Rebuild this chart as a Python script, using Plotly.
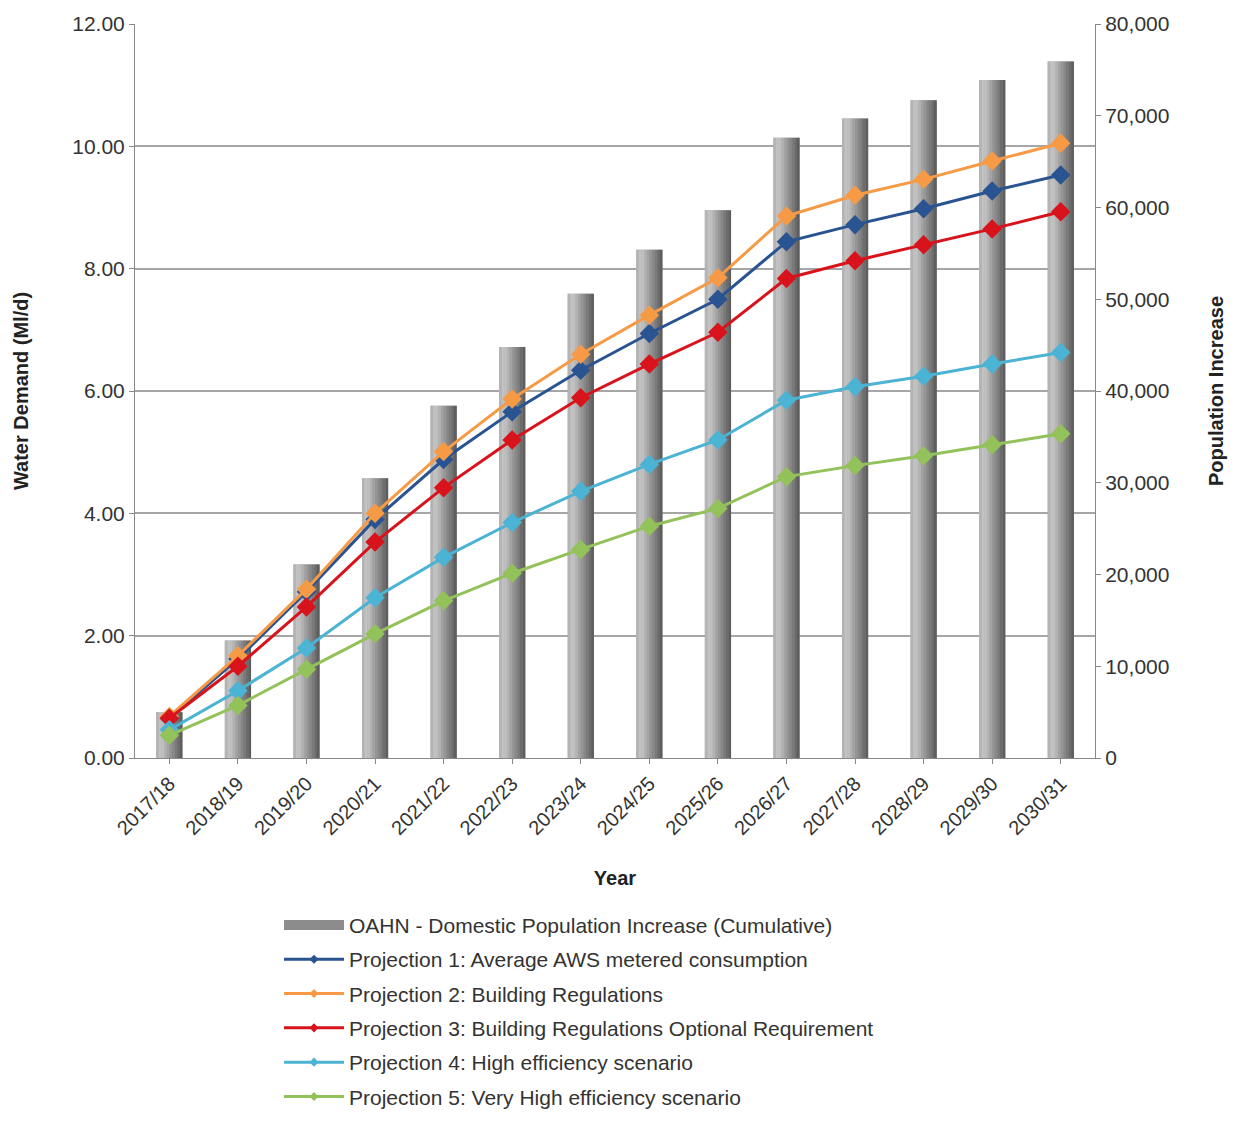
import plotly.graph_objects as go

years = ["2017/18", "2018/19", "2019/20", "2020/21", "2021/22", "2022/23", "2023/24",
         "2024/25", "2025/26", "2026/27", "2027/28", "2028/29", "2029/30", "2030/31"]

population = [5000, 12800, 21100, 30500, 38400, 44800, 50600, 55400, 59700, 67600,
              69700, 71700, 73900, 75900]

proj1 = [0.65, 1.62, 2.72, 3.90, 4.88, 5.66, 6.34, 6.94, 7.50, 8.44, 8.72, 8.98, 9.27, 9.53]
proj2 = [0.68, 1.67, 2.76, 4.00, 5.01, 5.87, 6.60, 7.24, 7.85, 8.86, 9.20, 9.46, 9.76, 10.05]
proj3 = [0.65, 1.50, 2.47, 3.53, 4.42, 5.20, 5.89, 6.44, 6.96, 7.84, 8.13, 8.39, 8.65, 8.93]
proj4 = [0.46, 1.10, 1.80, 2.62, 3.28, 3.85, 4.36, 4.80, 5.20, 5.85, 6.07, 6.24, 6.44, 6.63]
proj5 = [0.37, 0.86, 1.45, 2.03, 2.57, 3.02, 3.41, 3.79, 4.08, 4.60, 4.78, 4.94, 5.12, 5.30]

bar_name = "OAHN - Domestic Population Increase (Cumulative)"
series = [
    ("Projection 1: Average AWS metered consumption", proj1, "#2a5391"),
    ("Projection 2: Building Regulations", proj2, "#f79a46"),
    ("Projection 3: Building Regulations Optional Requirement", proj3, "#d8131b"),
    ("Projection 4: High efficiency scenario", proj4, "#4bb3d3"),
    ("Projection 5: Very High efficiency scenario", proj5, "#93c15a"),
]

FONT = "Liberation Sans, Arial, sans-serif"
fig = go.Figure()

# bars (gradient simulated by overlaid strips)
bar_w = 0.38
fig.add_trace(go.Bar(
    x=years, y=population, name=bar_name, showlegend=False,
    marker=dict(color="#a8a8a8", line=dict(width=0)), width=bar_w, yaxis="y",
    hoverinfo="skip"))
strip_colors = ["#b4b4b4", "#c2c2c2", "#bfbfbf", "#b2b2b2", "#a3a3a3", "#959595",
                "#888888", "#7a7a7a", "#6c6c6c", "#5e5e5e"]
n = len(strip_colors)
sw = bar_w / n
for i, c in enumerate(strip_colors):
    fig.add_trace(go.Bar(
        x=years, y=population, showlegend=False, width=sw * 1.08,
        offset=-bar_w / 2 + i * sw, marker=dict(color=c, line=dict(width=0)),
        yaxis="y", hoverinfo="skip"))

for name, vals, col in series:
    fig.add_trace(go.Scatter(
        x=years, y=vals, name=name, mode="lines+markers", yaxis="y2",
        showlegend=False,
        line=dict(color=col, width=3),
        marker=dict(symbol="diamond", size=15, color=col)))

# legend entries (no data drawn)
fig.add_trace(go.Scatter(x=[None], y=[None], name=bar_name, mode="lines", yaxis="y2",
                         legendgroup="g0", line=dict(color="#8c8c8c", width=13)))
for k, (name, vals, col) in enumerate(series):
    fig.add_trace(go.Scatter(
        x=[None], y=[None], name=name, mode="lines+markers", yaxis="y2",
        legendgroup=f"g{k+1}",
        line=dict(color=col, width=3),
        marker=dict(symbol="diamond", size=7, color=col)))

fig.update_layout(
    width=1243, height=1133,
    margin=dict(l=135, r=148, t=20, b=375),
    paper_bgcolor="white", plot_bgcolor="white",
    barmode="overlay",
    font=dict(family=FONT, size=20, color="#333333"),
    showlegend=True,
    legend=dict(x=0.15, xanchor="left", y=-0.2, yanchor="top",
                font=dict(size=21, color="#333333"), tracegroupgap=4,
                itemwidth=60, bgcolor="rgba(0,0,0,0)"),
    xaxis=dict(
        type="category", range=[-0.5, 13.5], tickangle=-45, showline=True,
        linecolor="#888888", linewidth=1,
        ticks="outside", ticklen=5, tickcolor="#888888", showgrid=False,
        tickfont=dict(size=20, color="#333333"),
        title=dict(text="<b>Year</b>", font=dict(size=20, color="#222222"), standoff=32),
    ),
    yaxis=dict(
        side="right", range=[0, 80000], dtick=10000, tickformat=",",
        showgrid=False, showline=True, linecolor="#888888", linewidth=1,
        ticks="outside", ticklen=5, tickcolor="#888888",
        tickfont=dict(size=21, color="#333333"),
        title=dict(text="<b>Population Increase</b>", font=dict(size=20, color="#222222"),
                   standoff=40),
    ),
    yaxis2=dict(
        side="left", overlaying="y", range=[0, 12], dtick=2, tickformat=".2f",
        showgrid=True, gridcolor="#a6a6a6", gridwidth=1.5,
        showline=True, linecolor="#888888", linewidth=1,
        ticks="outside", ticklen=5, tickcolor="#888888",
        tickfont=dict(size=21, color="#333333"),
        title=dict(text="<b>Water Demand (Ml/d)</b>", font=dict(size=20, color="#222222"),
                   standoff=38),
    ),
)

fig.write_html("out.html")
